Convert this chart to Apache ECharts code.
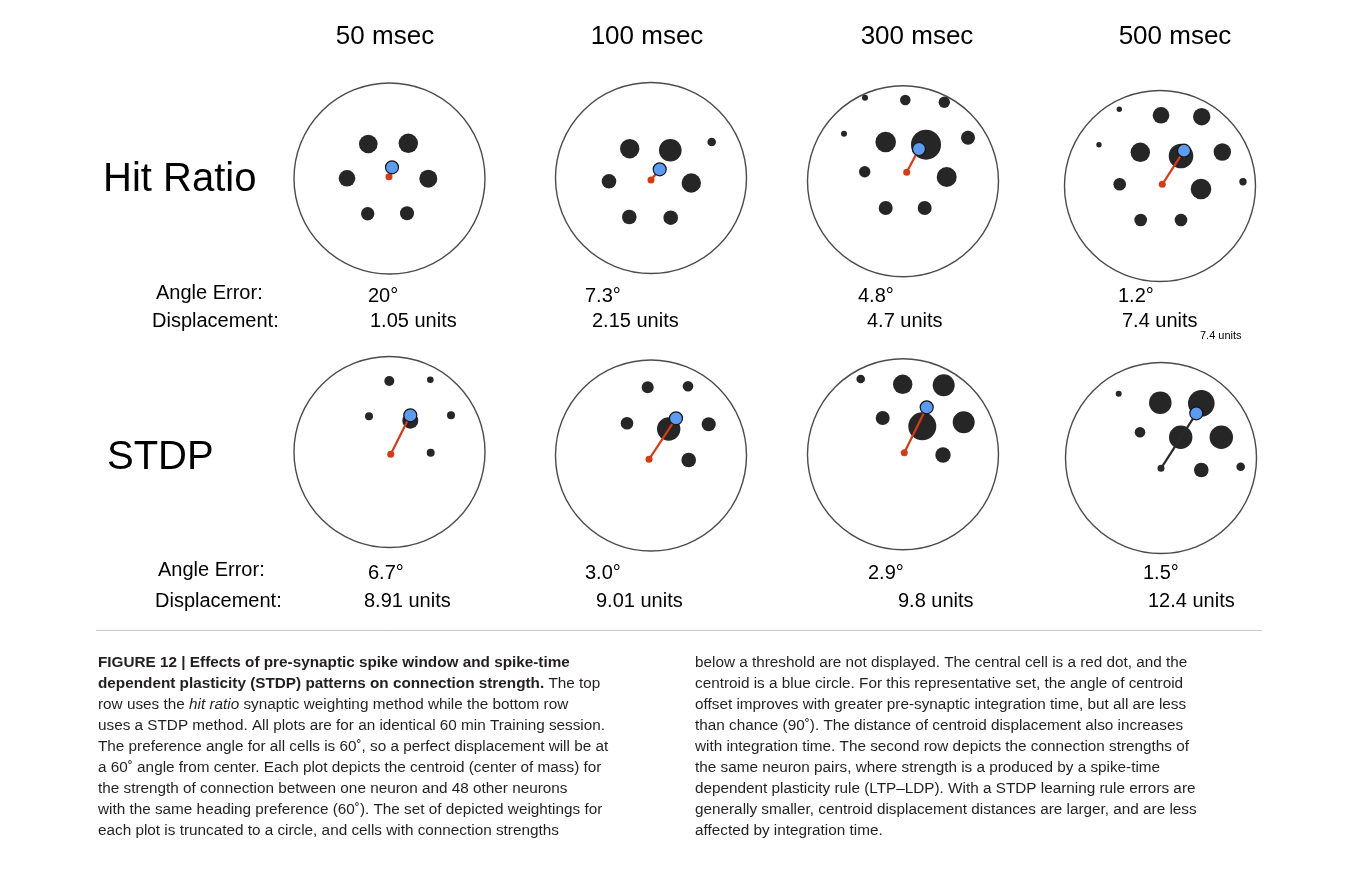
<!DOCTYPE html>
<html><head><meta charset="utf-8">
<script src="https://cdn.jsdelivr.net/npm/echarts@6/dist/echarts.min.js"></script>
<style>html,body{margin:0;padding:0;background:#fff;}#c{width:1356px;height:885px;}</style>
</head><body><div id="c"></div>
<script>
// ---- data ----
const columns = ['50 msec', '100 msec', '300 msec', '500 msec'];
const rowLabels = ['Hit Ratio', 'STDP'];
const hitAngleErrors = ['20°', '7.3°', '4.8°', '1.2°'];
const hitDisplacements = ['1.05 units', '2.15 units', '4.7 units', '7.4 units'];
const stdpAngleErrors = ['6.7°', '3.0°', '2.9°', '1.5°'];
const stdpDisplacements = ['8.91 units', '9.01 units', '9.8 units', '12.4 units'];
const extraNote = '7.4 units';

// cell dots: [dx, dy, dot radius] relative to plot centre (y up)
const hit50 = [[-21.2,34.5,9.3],[18.8,35.2,9.7],[-42.5,0.2,8.3],[38.8,-0.2,9],[-21.8,-35.2,6.7],[17.5,-34.8,7]];
const hit100 = [[-21.3,29.3,9.7],[19.3,27.7,11.3],[60.7,36,4.3],[-42,-3.3,7.3],[40.3,-5,9.7],[-21.7,-39,7.3],[19.7,-39.7,7.3]];
const hit300 = [[-38,83.6,3],[2.3,81.3,5.3],[41.3,79,5.7],[-59,47.6,3],[-17.3,39.3,10.3],[23,36.6,15],[65,43.6,7],[-38.3,9.6,5.7],[43.7,4.3,10],[-17.3,-26.7,7],[21.7,-26.7,7]];
const hit500 = [[-40.7,76.7,2.7],[1,70.7,8.3],[41.7,69.3,8.7],[-61,41.3,2.7],[-19.7,33.7,9.7],[21,30,12.3],[62.3,34,8.7],[-40.3,1.7,6.3],[41,-3,10.3],[83,4.3,3.7],[-19.3,-34,6.3],[21,-34,6.3]];
const stdp50 = [[-0.2,71,5],[40.8,72.3,3.3],[-20.5,35.7,4],[61.5,36.7,4],[20.8,31.3,8],[41.2,-0.7,4]];
const stdp100 = [[-3.3,68.2,6],[37,69.2,5.3],[-24,32.2,6.3],[57.7,31.2,7],[17.7,26.5,11.7],[37.7,-4.5,7.3]];
const stdp300 = [[-42.3,75.3,4.3],[-0.3,70,9.7],[40.7,69,11],[-20.3,36.3,7],[19.3,28,14],[60.7,32,11],[40,-0.7,7.7]];
const stdp500 = [[-42.3,64.3,3],[-0.7,55.3,11.3],[40.3,54.7,13.3],[-21,25.7,5.3],[19.7,20.7,11.7],[60.3,20.7,11.7],[40.3,-12,7.3],[79.7,-8.7,4.3]];

// central cell and centroid [dx, dy]
const hitCentres = [[-0.5,1.8],[0,-2],[3.7,9],[2.3,1.7]];
const hitCentroids = [[2.5,11.2],[8.7,8.7],[16,32.3],[24,35.3]];
const stdpCentres = [[1.2,-2.3],[-2,-3.8],[1.3,1.6],[0,-10.3]];
const stdpCentroids = [[20.8,36.7],[25,37.2],[23.7,47],[35.3,44.7]];

const captionLeft = [
  '{b|FIGURE 12 | Effects of pre-synaptic spike window and spike-time}',
  '{b|dependent plasticity (STDP) patterns on connection strength.} The top',
  'row uses the {i|hit ratio} synaptic weighting method while the bottom row',
  'uses a STDP method. All plots are for an identical 60 min Training session.',
  'The preference angle for all cells is 60˚, so a perfect displacement will be at',
  'a 60˚ angle from center. Each plot depicts the centroid (center of mass) for',
  'the strength of connection between one neuron and 48 other neurons',
  'with the same heading preference (60˚). The set of depicted weightings for',
  'each plot is truncated to a circle, and cells with connection strengths'
];
const captionRight = [
  'below a threshold are not displayed. The central cell is a red dot, and the',
  'centroid is a blue circle. For this representative set, the angle of centroid',
  'offset improves with greater pre-synaptic integration time, but all are less',
  'than chance (90˚). The distance of centroid displacement also increases',
  'with integration time. The second row depicts the connection strengths of',
  'the same neuron pairs, where strength is a produced by a spike-time',
  'dependent plasticity rule (LTP–LDP). With a STDP learning rule errors are',
  'generally smaller, centroid displacement distances are larger, and are less',
  'affected by integration time.'
];

// ---- layout ----
const R = 95.5;
const plotCentres = [[389.5,178.5],[651,178],[903,181.3],[1160,186],[389.5,452],[651,455.5],[903,454.3],[1161,458]];
const plots = [
  {dots: hit50, c: hitCentres[0], g: hitCentroids[0], line: '#d93a12'},
  {dots: hit100, c: hitCentres[1], g: hitCentroids[1], line: '#d93a12'},
  {dots: hit300, c: hitCentres[2], g: hitCentroids[2], line: '#d93a12'},
  {dots: hit500, c: hitCentres[3], g: hitCentroids[3], line: '#d93a12'},
  {dots: stdp50, c: stdpCentres[0], g: stdpCentroids[0], line: '#d93a12'},
  {dots: stdp100, c: stdpCentres[1], g: stdpCentroids[1], line: '#d93a12'},
  {dots: stdp300, c: stdpCentres[2], g: stdpCentroids[2], line: '#d93a12'},
  {dots: stdp500, c: stdpCentres[3], g: stdpCentroids[3], line: '#2a2a2a'}
];

const grid = [], xAxis = [], yAxis = [], series = [];
plots.forEach((p, i) => {
  const [cx, cy] = plotCentres[i];
  grid.push({left: cx - R, top: cy - R, width: 2 * R, height: 2 * R});
  xAxis.push({gridIndex: i, type: 'value', min: -R, max: R, show: false});
  yAxis.push({gridIndex: i, type: 'value', min: -R, max: R, show: false});
  const ax = {xAxisIndex: i, yAxisIndex: i, silent: true, animation: false};
  series.push(Object.assign({type: 'scatter', data: [[0, 0]], symbolSize: 2 * R,
    itemStyle: {color: 'rgba(0,0,0,0)', borderColor: '#1e1e1e', borderWidth: 1.4}, z: 1}, ax));
  series.push(Object.assign({type: 'scatter', data: p.dots, symbolSize: d => 2 * d[2],
    itemStyle: {color: '#262626', opacity: 1}, z: 2}, ax));
  series.push(Object.assign({type: 'line', data: [p.c, p.g], symbol: 'none',
    lineStyle: {color: p.line, width: 2.2}, z: 3}, ax));
  series.push(Object.assign({type: 'scatter', data: [p.c], symbolSize: 7,
    itemStyle: {color: p.line, opacity: 1}, z: 4}, ax));
  series.push(Object.assign({type: 'scatter', data: [p.g], symbolSize: 13,
    itemStyle: {color: '#5b9cf2', borderColor: '#141414', borderWidth: 1.2, opacity: 1}, z: 5}, ax));
});

const FONT = '"Liberation Sans", Arial, Helvetica, sans-serif';
const graphic = [];
const colTitleX = [385, 647, 917, 1175];
columns.forEach((t, i) => graphic.push({type: 'text', x: colTitleX[i], y: 37,
  style: {text: t, font: '26px ' + FONT, fill: '#000', align: 'center', verticalAlign: 'middle'}}));
graphic.push({type: 'text', x: 103, y: 180, style: {text: rowLabels[0], font: '40px ' + FONT, fill: '#000', verticalAlign: 'middle'}});
graphic.push({type: 'text', x: 107, y: 458, style: {text: rowLabels[1], font: '40px ' + FONT, fill: '#000', verticalAlign: 'middle'}});

function lbl(t, x, y, size) {
  graphic.push({type: 'text', x: x, y: y, style: {text: t, font: size + 'px ' + FONT, fill: '#000', verticalAlign: 'middle'}});
}
lbl('Angle Error:', 156, 293, 20);
lbl('Displacement:', 152, 321, 20);
lbl('Angle Error:', 158, 570, 20);
lbl('Displacement:', 155, 601, 20);
const hitAX = [368, 585, 858, 1118], hitDX = [370, 592, 867, 1122];
const stAX = [368, 585, 868, 1143], stDX = [364, 596, 898, 1148];
hitAngleErrors.forEach((t, i) => lbl(t, hitAX[i], 296, 20));
hitDisplacements.forEach((t, i) => lbl(t, hitDX[i], 321, 20));
stdpAngleErrors.forEach((t, i) => lbl(t, stAX[i], 573, 20));
stdpDisplacements.forEach((t, i) => lbl(t, stDX[i], 601, 20));
lbl(extraNote, 1200, 336, 11);

graphic.push({type: 'line', shape: {x1: 96, y1: 630.5, x2: 1262, y2: 630.5}, style: {stroke: '#c8c8c8', lineWidth: 1}});

const capRich = {
  b: {font: 'bold 15.3px ' + FONT, fill: '#231f20'},
  i: {font: 'italic 15.3px ' + FONT, fill: '#231f20'}
};
function caption(lines, x) {
  lines.forEach((t, k) => graphic.push({type: 'text', x: x, y: 663 + 21 * k,
    style: {text: t, font: '15.3px ' + FONT, fill: '#231f20', verticalAlign: 'middle', rich: capRich}}));
}
caption(captionLeft, 98);
caption(captionRight, 695);

const chart = echarts.init(document.getElementById('c'), null, {renderer: 'canvas'});
chart.setOption({animation: false, backgroundColor: '#fff', grid, xAxis, yAxis, series, graphic});
</script></body></html>
